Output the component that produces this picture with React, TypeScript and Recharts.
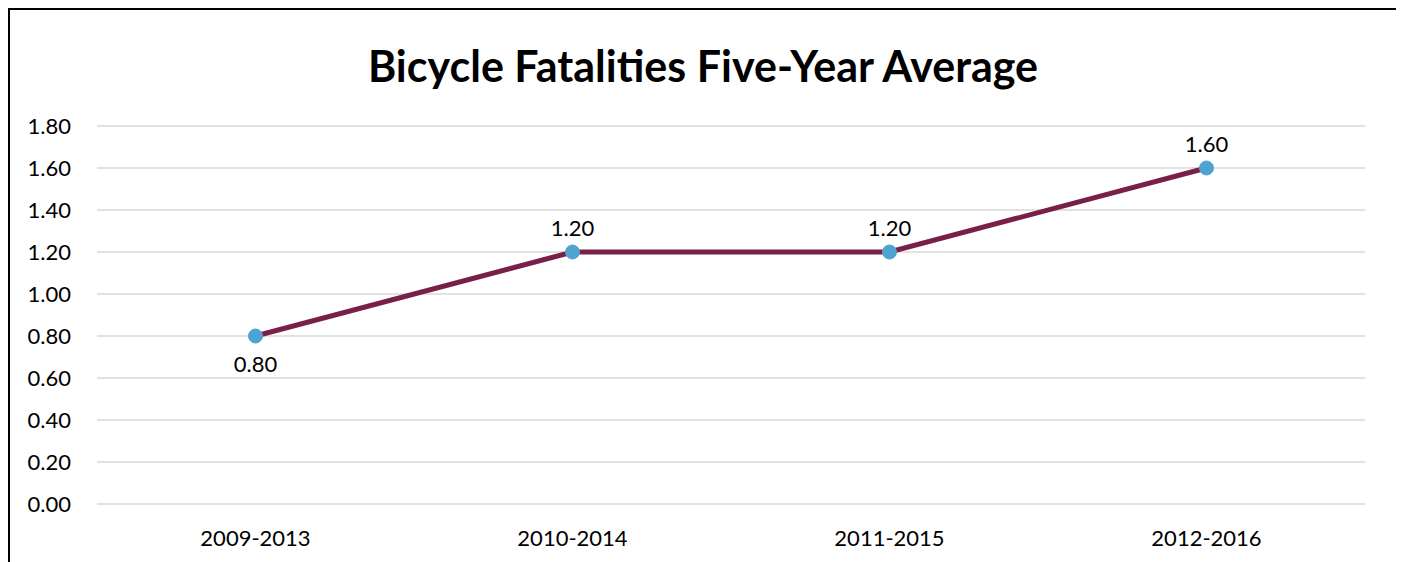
import { CartesianGrid, LabelList, Line, LineChart, XAxis, YAxis } from "recharts";

const periods = ["2009-2013", "2010-2014", "2011-2015", "2012-2016"];
const averages = [0.8, 1.2, 1.2, 1.6];
const yTicks = [0, 0.2, 0.4, 0.6, 0.8, 1.0, 1.2, 1.4, 1.6, 1.8];

const data = periods.map((period, i) => ({ period, value: averages[i] }));

const font = "Lato, 'Noto Sans', sans-serif";

function PointLabel(props: any) {
  const { x, y, value, index } = props;
  const below = index === 0;
  return (
    <text
      x={x}
      y={below ? y + 27 : y - 25}
      textAnchor="middle"
      dominantBaseline="central"
      fontSize={22}
      fontFamily={font}
      fill="#000"
    >
      {Number(value).toFixed(2)}
    </text>
  );
}

export default function App() {
  return (
    <div
      style={{
        position: "relative",
        width: 1386,
        height: 560,
        border: "2px solid #000",
        background: "#fff",
      }}
    >
      <div
        style={{
          position: "absolute",
          top: 32,
          left: 0,
          width: "100%",
          textAlign: "center",
          fontFamily: font,
          fontWeight: 700,
          fontSize: 43,
          color: "#000",
          lineHeight: "48px",
        }}
      >
        Bicycle Fatalities Five-Year Average
      </div>
      <LineChart width={1386} height={560} data={data} margin={{ top: 116, right: 31, left: 0, bottom: 36 }}>
        <CartesianGrid stroke="#D9D9D9" strokeWidth={1.5} vertical={false} />
        <XAxis
          dataKey="period"
          scale="band"
          axisLine={false}
          tickLine={false}
          tickSize={0}
          tickMargin={26}
          tick={{ fontSize: 22, fill: "#000", fontFamily: font }}
        />
        <YAxis
          domain={[0, 1.8]}
          ticks={yTicks}
          width={87}
          axisLine={false}
          tickLine={false}
          tickSize={0}
          tickMargin={26}
          tickFormatter={(v: number) => v.toFixed(2)}
          tick={{ fontSize: 22, fill: "#000", fontFamily: font }}
        />
        <Line
          type="linear"
          dataKey="value"
          stroke="#78204A"
          strokeWidth={5}
          dot={{ r: 7, fill: "#4FA3D1", stroke: "#4FA3D1", strokeWidth: 1 }}
          activeDot={false}
          isAnimationActive={false}
        >
          <LabelList dataKey="value" content={PointLabel} />
        </Line>
      </LineChart>
    </div>
  );
}
